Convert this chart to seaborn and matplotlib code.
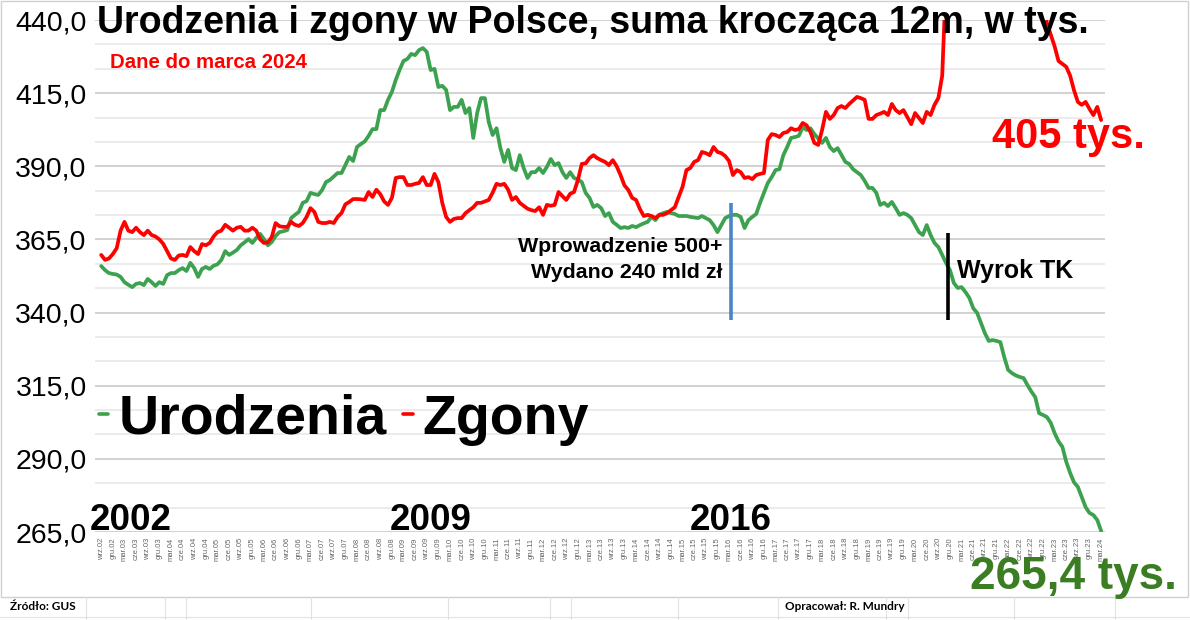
import matplotlib
matplotlib.use("Agg")
import matplotlib.pyplot as plt
from matplotlib.lines import Line2D
from matplotlib.patches import Rectangle
import seaborn as sns
import pandas as pd

# rolling 12-month sums, thousands, monthly from wrz.02 to mar.24
births = [
    355.9, 354.5, 353.5, 353.2, 353.0, 352.2, 350.4, 349.5, 348.7, 349.8,
    350.1, 349.4, 351.5, 350.4, 349.1, 350.4, 349.8, 352.8, 353.5, 353.5,
    354.5, 355.2, 354.2, 357.0, 355.2, 352.2, 354.9, 355.6, 354.9, 356.0,
    356.5, 358.0, 361.0, 359.7, 360.5, 361.4, 363.0, 364.0, 365.1, 363.8,
    365.5, 366.9, 365.1, 363.0, 364.1, 366.2, 367.5, 367.8, 368.2, 372.3,
    373.4, 374.4, 377.5, 378.1, 380.9, 380.5, 380.2, 381.9, 384.6, 385.3,
    386.5, 387.7, 387.7, 390.4, 393.2, 391.8, 396.6, 397.6, 398.5, 400.4,
    402.7, 402.7, 409.2, 409.2, 412.7, 415.4, 419.5, 423.0, 426.0, 426.7,
    428.4, 428.0, 429.7, 430.4, 429.1, 422.9, 423.3, 417.1, 417.5, 416.1,
    409.2, 410.3, 410.3, 412.7, 408.2, 409.9, 399.7, 408.2, 413.3, 413.3,
    405.1, 400.7, 403.0, 396.2, 391.5, 395.6, 389.4, 388.7, 393.8, 389.4,
    386.0, 388.0, 388.0, 389.4, 387.7, 389.8, 392.5, 390.4, 391.1, 388.0,
    386.0, 388.0, 386.0, 385.5, 384.6, 380.9, 379.2, 376.1, 376.8, 375.7,
    373.0, 374.0, 371.0, 370.0, 368.9, 369.2, 368.9, 369.6, 369.2, 369.9,
    370.5, 371.0, 372.7, 371.6, 373.4, 374.0, 374.4, 374.0, 373.7, 373.0,
    373.0, 373.0, 372.7, 372.5, 372.3, 373.0, 372.3, 371.6, 369.9, 367.5,
    369.9, 372.3, 373.0, 373.4, 373.4, 372.7, 368.9, 371.6, 372.7, 373.7,
    377.5, 380.9, 384.3, 386.3, 388.7, 389.0, 393.8, 396.6, 399.7, 400.0,
    400.4, 403.4, 402.4, 403.0, 401.0, 399.5, 398.0, 399.7, 396.6, 395.2,
    396.2, 393.9, 391.5, 390.8, 389.0, 388.0, 387.0, 385.0, 382.6, 382.6,
    380.9, 376.8, 377.5, 376.4, 377.8, 375.7, 373.4, 374.0, 373.4, 372.3,
    369.9, 367.5, 366.5, 369.9, 366.5, 363.8, 362.4, 359.7, 356.9, 354.5,
    350.1, 348.4, 348.7, 347.0, 345.0, 341.5, 339.9, 336.4, 333.0, 330.3,
    330.6, 330.3, 329.9, 324.8, 320.4, 319.3, 318.5, 318.0, 317.6, 315.2,
    313.0, 311.1, 305.6, 305.0, 304.3, 302.3, 298.8, 296.0, 294.1, 289.0,
    285.2, 282.0, 280.4, 277.0, 273.5, 271.5, 270.8, 269.1, 265.4,
]

deaths = [
    359.7, 358.0, 358.5, 360.0, 362.0, 368.0, 371.0, 368.0, 367.5, 369.0,
    367.5, 366.5, 368.0, 366.5, 366.0, 365.0, 363.5, 361.0, 358.5, 358.0,
    359.5, 359.7, 359.3, 362.4, 361.0, 360.0, 363.4, 363.0, 363.8, 366.0,
    367.5, 368.0, 370.0, 369.0, 368.0, 369.0, 369.3, 368.0, 368.0, 369.0,
    368.0, 365.0, 363.8, 364.0, 365.8, 370.6, 369.5, 369.3, 369.3, 371.0,
    370.0, 369.6, 370.6, 372.7, 375.7, 374.4, 371.0, 370.6, 370.6, 371.0,
    370.6, 372.7, 374.0, 377.0, 377.8, 378.8, 378.8, 378.7, 378.5, 381.2,
    379.5, 382.0, 380.5, 378.0, 376.8, 379.2, 386.0, 386.3, 386.3, 383.6,
    383.6, 384.0, 384.3, 386.3, 383.6, 383.6, 387.4, 384.6, 377.5, 372.7,
    371.0, 372.0, 372.3, 372.3, 374.0, 375.0, 376.0, 377.5, 377.5, 378.0,
    378.5, 381.0, 384.0, 383.6, 384.0, 382.0, 378.5, 379.5, 377.5, 376.5,
    375.5, 375.0, 374.7, 376.0, 373.4, 376.8, 376.5, 376.8, 381.2, 379.8,
    378.5, 380.6, 381.2, 385.3, 390.8, 391.0, 392.8, 393.8, 392.8, 392.1,
    391.5, 390.4, 392.1, 390.0, 387.0, 383.5, 381.9, 379.2, 378.5, 375.4,
    373.0, 373.4, 373.0, 372.3, 373.4, 373.4, 374.0, 375.0, 376.0, 379.5,
    383.0, 388.7, 389.4, 391.5, 392.1, 394.9, 394.5, 393.8, 396.6, 394.9,
    394.5, 393.5, 391.8, 387.0, 388.7, 388.0, 386.0, 386.3, 385.6, 387.0,
    387.4, 387.7, 399.0, 401.0, 400.7, 400.0, 401.4, 401.7, 403.0, 402.4,
    402.7, 404.8, 404.0, 401.7, 398.0, 397.3, 402.4, 408.6, 406.2, 407.5,
    409.9, 410.6, 409.9, 411.3, 412.5, 413.7, 413.3, 412.7, 406.2, 406.2,
    407.5, 408.0, 408.6, 407.5, 411.3, 409.2, 408.2, 409.2, 406.8, 404.4,
    408.2, 406.5, 404.8, 408.6, 407.5, 411.0, 413.3, 421.0, 455.0, 477.0,
    480.0, 482.0, 500.0, 519.0, 525.0, 526.0, 525.0, 526.0, 527.0, 526.0,
    521.0, 519.0, 523.0, 526.0, 509.0, 491.0, 486.0, 484.0, 483.0, 482.0,
    480.0, 466.0, 456.0, 448.0, 439.0, 435.0, 431.0, 426.0, 425.0, 424.0,
    421.0, 416.0, 412.0, 411.0, 412.0, 409.6, 407.5, 410.3, 405.8,
]

# quarterly tick labels wrz.02, gru.02, mar.03 ... mar.24
months_pl = ["mar", "cze", "wrz", "gru"]
tick_labels = []
q, yr = 2, 2
for k in range(87):
    tick_labels.append(f"{months_pl[q]}.{yr:02d}")
    q += 1
    if q == 4:
        q = 0
        yr += 1

y_ticks = [265, 290, 315, 340, 365, 390, 415, 440]

n = len(births)
df = pd.DataFrame({
    "idx": list(range(n)) * 2,
    "value": births + deaths,
    "series": ["Urodzenia"] * n + ["Zgony"] * n,
})

sns.set_style("white")
plt.rcParams["font.family"] = ["Liberation Sans", "DejaVu Sans"]
plt.rcParams["text.color"] = "black"
plt.rcParams["ytick.color"] = "black"

W, H = 1190, 620
fig = plt.figure(figsize=(W / 100, H / 100), dpi=100)
ax = fig.add_axes([95 / W, 1 - 532 / H, 1010 / W, 512 / H])

def fx(px):
    return px / W

def fy(py):
    return 1 - py / H

# horizontal grid: major every 25, minor every 25/3
for k in range(22):
    v = 265 + k * 25 / 3
    major = k % 3 == 0
    ax.axhline(v, color="#c9c9c9" if major else "#e8e8e8", lw=1.2, zorder=0)

green = "#3ca24f"
red = "#ff0000"
sns.lineplot(data=df, x="idx", y="value", hue="series",
             palette={"Urodzenia": green, "Zgony": red},
             linewidth=2.7, ax=ax, legend=False, zorder=3)

ax.set_xlim(-1.6, 259.0)
ax.set_ylim(265, 440)
ax.set_yticks(y_ticks)
ax.set_yticklabels([f"{v},0" for v in y_ticks], fontsize=20.5, color="black")
ax.set_xticks(list(range(0, n, 3)))
ax.set_xticklabels(tick_labels, rotation=90, fontsize=5.5, color="#666666")
ax.tick_params(axis="both", length=0)
ax.tick_params(axis="y", pad=6)
ax.tick_params(axis="x", pad=4)
ax.set_xlabel("")
ax.set_ylabel("")
for s in ax.spines.values():
    s.set_visible(False)

# markers of events
ax.vlines(162.5, 337.5, 377.5, color="#4a86c5", lw=2.6, zorder=4)
ax.vlines(218.5, 337.5, 367.2, color="black", lw=2.6, zorder=4)

# legend
handles = [Line2D([], [], color=green, lw=2.6), Line2D([], [], color=red, lw=2.6)]
leg = ax.legend(handles, ["Urodzenia", "Zgony"], ncol=2, loc="center left",
                bbox_to_anchor=(0.004, 0.219), frameon=False, borderpad=0,
                borderaxespad=0, handlelength=0.17, handletextpad=0.18,
                columnspacing=0.3, prop={"size": 40, "weight": "bold"})
for t in leg.get_texts():
    t.set_color("black")

# texts
fig.text(fx(97), fy(23), "Urodzenia i zgony w Polsce, suma krocząca 12m, w tys.",
         fontsize=27, fontweight="bold", va="center", ha="left")
fig.text(fx(110), fy(63), "Dane do marca 2024", color=red, fontsize=14.7,
         fontweight="bold", va="center")
fig.text(fx(992), fy(137), "405 tys.", color=red, fontsize=30,
         fontweight="bold", va="center")
fig.text(fx(970), fy(577), "265,4 tys.", color="#3a7d22", fontsize=33,
         fontweight="bold", va="center")
for x0, yr_txt in [(90, "2002"), (390, "2009"), (690, "2016")]:
    fig.text(fx(x0), fy(520), yr_txt, fontsize=26.5, fontweight="bold", va="center")
fig.text(fx(722), fy(246), "Wprowadzenie 500+", fontsize=15.4, fontweight="bold",
         va="center", ha="right")
fig.text(fx(722), fy(272), "Wydano 240 mld zł", fontsize=15.4, fontweight="bold",
         va="center", ha="right")
fig.text(fx(957), fy(271), "Wyrok TK", fontsize=18, fontweight="bold", va="center")

# chart frame and spreadsheet footer
fig.add_artist(Rectangle((fx(1), fy(597)), fx(1187), 596 / H, transform=fig.transFigure,
                         fill=False, ec="#d0d0d0", lw=1))
for xc in [86, 165, 186, 311, 448, 550, 571, 678, 778, 886, 908, 1014, 1115]:
    fig.add_artist(Line2D([fx(xc), fx(xc)], [fy(597), fy(620)],
                          transform=fig.transFigure, color="#e2e2e2", lw=0.8))
fig.add_artist(Line2D([0, 1], [fy(617), fy(617)], transform=fig.transFigure,
                      color="#e2e2e2", lw=0.8))
fig.text(fx(10), fy(607), "Źródło: GUS", fontsize=8.5, family=["Lato", "DejaVu Sans"],
         fontweight="bold", va="center")
fig.text(fx(785), fy(607), "Opracował: R. Mundry", fontsize=8.5,
         family=["Lato", "DejaVu Sans"], fontweight="bold", va="center")

fig.savefig("out.png", dpi=100, facecolor="white")
